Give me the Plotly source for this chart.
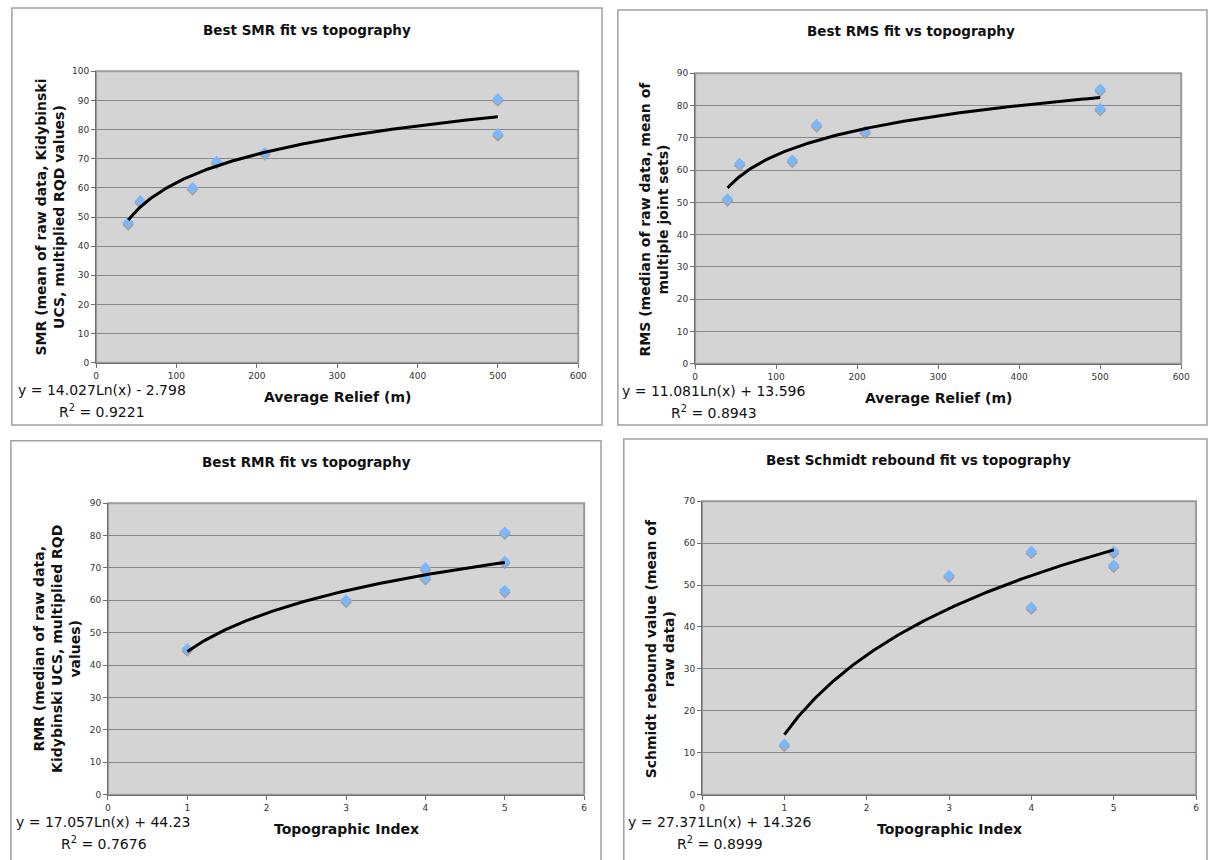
import numpy as np
import plotly.graph_objects as go

W, H = 1212, 860

# ---- data -------------------------------------------------------------
relief_m = [40, 55, 120, 150, 210, 500, 500]
smr_vals = [48, 55.5, 60, 69, 72, 90.5, 78.5]
rms_vals = [51, 62, 63, 74, 72, 85, 79]

rmr_index = [1, 3, 4, 4, 5, 5, 5]
rmr_vals = [45, 60, 70, 67, 81, 72, 63]

schmidt_index = [1, 3, 4, 4, 5, 5]
schmidt_vals = [12, 52.3, 58, 44.7, 58, 54.7]

# logarithmic trendline coefficients: y = a*ln(x) + b
smr_fit = (14.027, -2.798, "y = 14.027Ln(x) - 2.798", "0.9221")
rms_fit = (11.081, 13.596, "y = 11.081Ln(x) + 13.596", "0.8943")
rmr_fit = (17.057, 44.23, "y = 17.057Ln(x) + 44.23", "0.7676")
schmidt_fit = (27.371, 14.326, "y = 27.371Ln(x) + 14.326", "0.8999")

titles = ["Best SMR fit vs topography", "Best RMS fit vs topography",
          "Best RMR fit vs topography", "Best Schmidt rebound fit vs topography"]
ytitles = ["SMR (mean of raw data, Kidybinski<br>UCS, multiplied RQD values)",
           "RMS (median of raw data, mean of<br>multiple joint sets)",
           "RMR (median of raw data,<br>Kidybinski UCS, multiplied RQD<br>values)",
           "Schmidt rebound value (mean of<br>raw data)"]
xtitles = ["Average Relief (m)", "Average Relief (m)", "Topographic Index", "Topographic Index"]

# ---- layout geometry (pixels) -----------------------------------------
panels = [
    dict(x=relief_m, y=smr_vals, fit=smr_fit, xr=[0, 600], xd=100, yr=[0, 100], yd=10,
         plot=(94, 581, 67, 362), box=(9, 605, 3, 425), title=(307, 25),
         ytl=(46.5, 215), eq=(100, 390)),
    dict(x=relief_m, y=rms_vals, fit=rms_fit, xr=[0, 600], xd=100, yr=[0, 90], yd=10,
         plot=(699, 1190, 69, 363), box=(621, 1216, 5, 425), title=(917, 26),
         ytl=(657.5, 216), eq=(718, 391)),
    dict(x=rmr_index, y=rmr_vals, fit=rmr_fit, xr=[0, 6], xd=1, yr=[0, 90], yd=10,
         plot=(106, 587, 504, 799), box=(8, 604, 441, 866), title=(307, 462),
         ytl=(55, 651), eq=(102, 827)),
    dict(x=schmidt_index, y=schmidt_vals, fit=schmidt_fit, xr=[0, 6], xd=1, yr=[0, 70], yd=10,
         plot=(706, 1205, 502, 799), box=(627, 1216, 439, 866), title=(925, 460),
         ytl=(663.5, 651), eq=(724, 827)),
]

FONT = "DejaVu Sans"
BLUE = "#7DB7F7"
SHADOW = "#A0A0A0"
TXT = "#111111"
MSIZE = 9


def px(xp):
    return xp / W


def py(yp):
    return 1 - yp / H


def ax_key(kind, k):
    return f"{kind}axis" if k == 1 else f"{kind}axis{k}"


def ax_ref(kind, k):
    return kind if k == 1 else f"{kind}{k}"


fig = go.Figure()
annotations = []
shapes = []
layout = {}

for i, p in enumerate(panels):
    n = i + 1
    k_shadow = n + 4   # hidden subplot holding the marker shadows (shifted 2 px down)
    k_front = n + 8    # hidden subplot holding markers and trendline, drawn last
    l, r, t, b = p["plot"]
    y0, y1 = p["yr"]
    d = 2 * (y1 - y0) / (b - t)   # 2 px expressed in data units
    xdom = [px(l), px(r)]
    ydom = [py(b), py(t)]

    tick_font = dict(family=FONT, size=9, color="#333333")
    # visible frame: ticks, tick labels and horizontal gridlines
    layout[ax_key("x", n)] = dict(
        domain=xdom, range=p["xr"], dtick=p["xd"], anchor=ax_ref("y", n),
        showgrid=False, zeroline=False, showline=True, linecolor="#6E6E6E", linewidth=1,
        ticks="outside", ticklen=4, tickcolor="#6E6E6E", tickfont=tick_font,
        fixedrange=True)
    layout[ax_key("y", n)] = dict(
        domain=ydom, range=p["yr"], dtick=p["yd"], anchor=ax_ref("x", n),
        showgrid=True, gridcolor="#888888", gridwidth=1.3, zeroline=False,
        showline=True, linecolor="#6E6E6E", linewidth=1,
        ticks="outside", ticklen=4, tickcolor="#6E6E6E", tickfont=tick_font,
        fixedrange=True)
    for k, rng in ((k_shadow, [y0 + d, y1 + d]), (k_front, [y0, y1])):
        layout[ax_key("x", k)] = dict(domain=xdom, range=p["xr"], visible=False,
                                      anchor=ax_ref("y", k), fixedrange=True)
        layout[ax_key("y", k)] = dict(domain=ydom, range=rng, visible=False,
                                      anchor=ax_ref("x", k), fixedrange=True)

    a, c, eq_text, r2 = p["fit"]
    xs = np.linspace(min(p["x"]), max(p["x"]), 200)
    ys = a * np.log(xs) + c

    fig.add_trace(go.Scatter(x=p["x"], y=p["y"], xaxis=ax_ref("x", k_shadow),
                             yaxis=ax_ref("y", k_shadow), mode="markers",
                             marker=dict(symbol="diamond", size=MSIZE, color=SHADOW),
                             showlegend=False, hoverinfo="skip"))
    fig.add_trace(go.Scatter(x=p["x"], y=p["y"], xaxis=ax_ref("x", k_front),
                             yaxis=ax_ref("y", k_front), mode="markers",
                             marker=dict(symbol="diamond", size=MSIZE, color=BLUE),
                             showlegend=False))
    fig.add_trace(go.Scatter(x=xs, y=ys, xaxis=ax_ref("x", k_front),
                             yaxis=ax_ref("y", k_front), mode="lines",
                             line=dict(color="black", width=3), showlegend=False,
                             hoverinfo="skip"))
    # empty trace so the visible frame subplot is rendered
    fig.add_trace(go.Scatter(x=[], y=[], xaxis=ax_ref("x", n), yaxis=ax_ref("y", n),
                             showlegend=False, hoverinfo="skip"))

    # chart area border
    bl, br, bt, bb = p["box"]
    shapes.append(dict(type="rect", xref="paper", yref="paper",
                       x0=px(bl), x1=px(br), y0=py(bb), y1=py(bt),
                       line=dict(color="#A0A0A0", width=1.5), layer="below"))
    # plot area fill and frame
    shapes.append(dict(type="rect", xref="paper", yref="paper",
                       x0=px(l), x1=px(r), y0=py(b), y1=py(t),
                       fillcolor="#D4D4D4", line=dict(color="#9A9A9A", width=2),
                       layer="below"))

    tx, ty = p["title"]
    annotations.append(dict(text=f"<b>{titles[i]}</b>", x=px(tx), y=py(ty), xref="paper",
                            yref="paper", showarrow=False, xanchor="center", yanchor="middle",
                            font=dict(family=FONT, size=13.5, color=TXT)))
    annotations.append(dict(text=f"<b>{xtitles[i]}</b>", x=px((l + r) / 2), y=py(b + 35),
                            xref="paper", yref="paper", showarrow=False,
                            xanchor="center", yanchor="middle",
                            font=dict(family=FONT, size=14, color=TXT)))
    yx, yy = p["ytl"]
    annotations.append(dict(text=f"<b>{ytitles[i]}</b>", x=px(yx), y=py(yy), xref="paper",
                            yref="paper", showarrow=False, textangle=-90,
                            xanchor="center", yanchor="middle",
                            font=dict(family=FONT, size=14, color=TXT)))
    ex, ey = p["eq"]
    annotations.append(dict(text=eq_text, x=px(ex), y=py(ey), xref="paper", yref="paper",
                            showarrow=False, xanchor="center", yanchor="middle",
                            font=dict(family=FONT, size=14, color=TXT)))
    annotations.append(dict(text=f"R<sup>2</sup> = {r2}", x=px(ex), y=py(ey + 21),
                            xref="paper", yref="paper", showarrow=False,
                            xanchor="center", yanchor="middle",
                            font=dict(family=FONT, size=14, color=TXT)))

fig.update_layout(
    width=W, height=H, margin=dict(l=0, r=0, t=0, b=0),
    paper_bgcolor="white", plot_bgcolor="rgba(0,0,0,0)",
    annotations=annotations, shapes=shapes, **layout)

fig.write_html("out.html")
